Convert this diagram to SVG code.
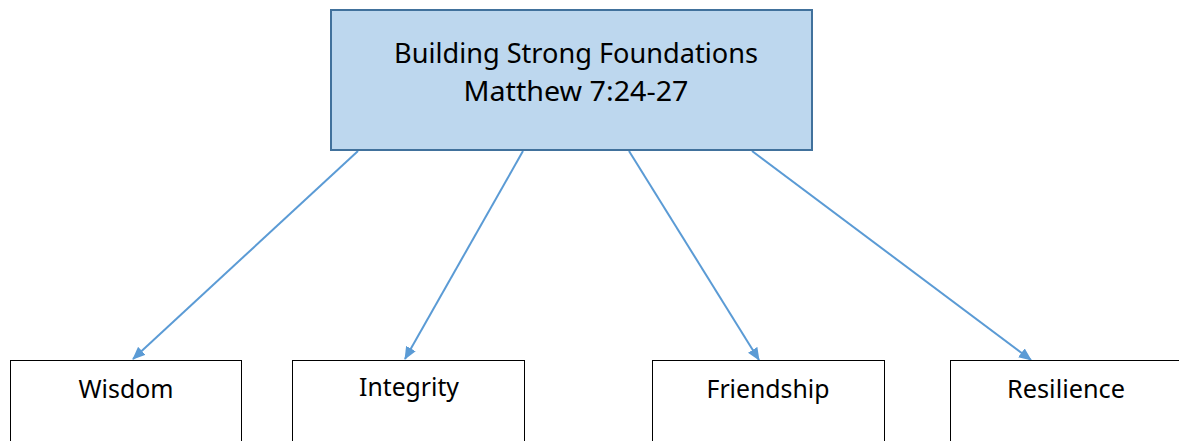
<svg xmlns="http://www.w3.org/2000/svg" width="1179" height="441" viewBox="0 0 1179 441">
<defs>
<style>
.t{font-family:"Noto Sans","Open Sans","Liberation Sans",sans-serif;fill:#000;text-anchor:middle}
.main{fill:#BDD7EE;stroke:#41719C;stroke-width:2}
.leaf{fill:#fff;stroke:#000;stroke-width:1}
.c{stroke:#5B9BD5;stroke-width:2;fill:none;marker-end:url(#ah)}
</style>
<marker id="ah" viewBox="0 0 13 11" refX="12" refY="5.5" markerWidth="13" markerHeight="11" markerUnits="userSpaceOnUse" orient="auto">
<path d="M0,0 L13,5.5 L0,11 z" fill="#5B9BD5"/>
</marker>
</defs>
<rect width="1179" height="441" fill="#fff"/>
<g id="connectors">
<line class="c" x1="358" y1="151" x2="133" y2="359"/>
<line class="c" x1="523" y1="151" x2="405" y2="359"/>
<line class="c" x1="629" y1="151" x2="759" y2="360"/>
<line class="c" x1="752" y1="151" x2="1031" y2="360"/>
</g>
<g id="root">
<rect class="main" x="331" y="10" width="481" height="140"/>
<text class="t" x="576" y="62.5" font-size="28" textLength="364" lengthAdjust="spacingAndGlyphs">Building Strong Foundations</text>
<text class="t" x="576" y="101" font-size="28" textLength="225" lengthAdjust="spacingAndGlyphs">Matthew 7:24-27</text>
</g>
<g id="wisdom">
<rect class="leaf" x="10.5" y="360.5" width="231" height="100"/>
<text class="t" x="126" y="398" font-size="25" textLength="95" lengthAdjust="spacingAndGlyphs">Wisdom</text>
</g>
<g id="integrity">
<rect class="leaf" x="292.5" y="360.5" width="232" height="100"/>
<text class="t" x="409" y="396" font-size="25" textLength="100" lengthAdjust="spacingAndGlyphs">Integrity</text>
</g>
<g id="friendship">
<rect class="leaf" x="652.5" y="360.5" width="232" height="100"/>
<text class="t" x="768" y="398" font-size="25" textLength="123" lengthAdjust="spacingAndGlyphs">Friendship</text>
</g>
<g id="resilience">
<rect class="leaf" x="950.5" y="360.5" width="232" height="100"/>
<text class="t" x="1066" y="398" font-size="25" textLength="118" lengthAdjust="spacingAndGlyphs">Resilience</text>
</g>
</svg>
